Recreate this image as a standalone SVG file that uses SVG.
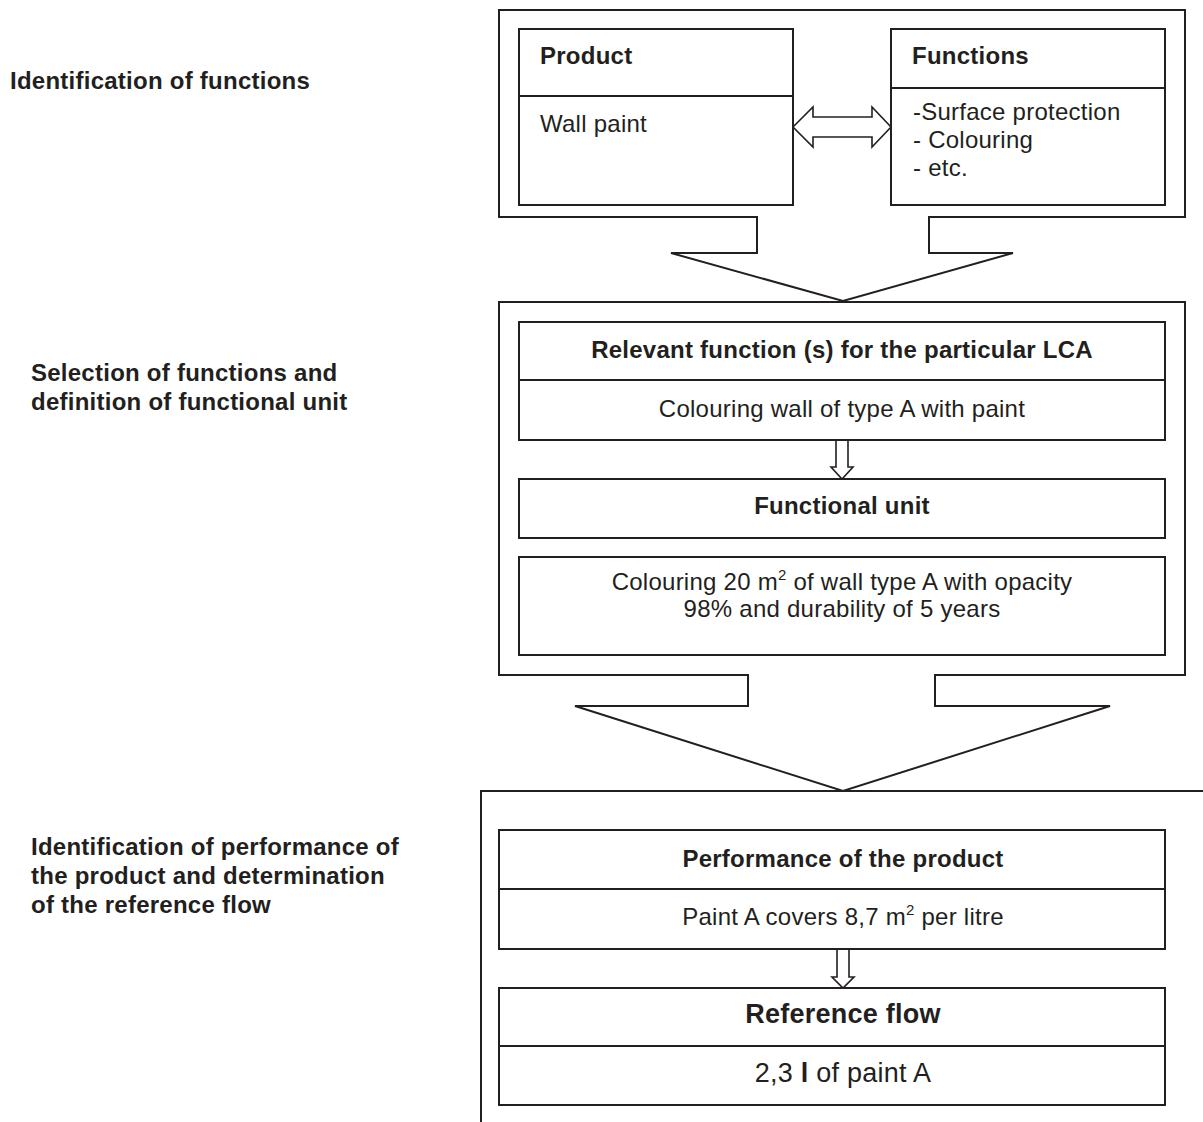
<svg xmlns="http://www.w3.org/2000/svg" width="1203" height="1122" viewBox="0 0 1203 1122">
  <style>
    .frame { fill: #ffffff; stroke: #231f20; stroke-width: 2; stroke-linejoin: miter; }
    .box { fill: #ffffff; stroke: #231f20; stroke-width: 2; }
    .rule { stroke: #231f20; stroke-width: 2; fill: none; }
    .arrow { fill: #ffffff; stroke: #231f20; stroke-width: 1.6; stroke-linejoin: miter; }
    text { font-family: "Liberation Sans", Arial, Helvetica, sans-serif; fill: #231f20; font-size: 24px; letter-spacing: 0.25px; }
    .b { font-weight: bold; }
    .c { text-anchor: middle; }
    .big { font-size: 27px; }
    .sup { font-size: 15px; }
  </style>
  <rect width="1203" height="1122" fill="#ffffff"/>

  <!-- stage labels on the left -->
  <g id="label-identification">
    <text class="b" x="10" y="89">Identification of functions</text>
  </g>
  <g id="label-selection">
    <text class="b" x="31" y="381">Selection of functions and</text>
    <text class="b" x="31" y="410">definition of functional unit</text>
  </g>
  <g id="label-performance">
    <text class="b" x="31" y="855">Identification of performance of</text>
    <text class="b" x="31" y="884">the product and determination</text>
    <text class="b" x="31" y="913">of the reference flow</text>
  </g>

  <!-- stage frames, each ending in a block arrow -->
  <g id="connectors">
    <path class="frame" d="M499,10 H1185 V217 H929 V253 H1013 L843,301 L671,253 H757 V217 H499 Z"/>
    <path class="frame" d="M499,302 H1185 V675 H935 V706 H1110 L843,791 L575,706 H748 V675 H499 Z"/>
    <path class="rule" d="M481,1122 V791 H1203"/>
    <!-- product / functions two-way arrow -->
    <polygon class="arrow" points="793,127 813,107 813,117 872,117 872,107 891,127 872,147 872,137 813,137 813,147"/>
    <!-- small down arrows -->
    <polygon class="arrow" points="836,440 848,440 848,467 853,467 842,479 831,467 836,467"/>
    <polygon class="arrow" points="837,949 849,949 849,977 854,977 843,988 832,977 837,977"/>
  </g>

  <g id="node-product">
    <rect class="box" x="519" y="29" width="274" height="176"/>
    <line class="rule" x1="519" y1="96" x2="793" y2="96"/>
    <text class="b" x="540" y="64">Product</text>
    <text x="540" y="132">Wall paint</text>
  </g>

  <g id="node-functions">
    <rect class="box" x="891" y="29" width="274" height="176"/>
    <line class="rule" x1="891" y1="88" x2="1165" y2="88"/>
    <text class="b" x="912" y="64">Functions</text>
    <text x="913" y="120">-Surface protection</text>
    <text x="913" y="148">- Colouring</text>
    <text x="913" y="176">- etc.</text>
  </g>

  <g id="node-relevant-function">
    <rect class="box" x="519" y="322" width="646" height="118"/>
    <line class="rule" x1="519" y1="380" x2="1165" y2="380"/>
    <text class="b c" x="842" y="358">Relevant function (s) for the particular LCA</text>
    <text class="c" x="842" y="417">Colouring wall of type A with paint</text>
  </g>

  <g id="node-functional-unit">
    <rect class="box" x="519" y="479" width="646" height="59"/>
    <text class="b c" x="842" y="514">Functional unit</text>
  </g>

  <g id="node-functional-unit-definition">
    <rect class="box" x="519" y="557" width="646" height="98"/>
    <text class="c" x="842" y="590">Colouring 20 m<tspan class="sup" dy="-10">2</tspan><tspan dy="10"> of wall type A with opacity</tspan></text>
    <text class="c" x="842" y="617">98% and durability of 5 years</text>
  </g>

  <g id="node-performance">
    <rect class="box" x="499" y="830" width="666" height="119"/>
    <line class="rule" x1="499" y1="889" x2="1165" y2="889"/>
    <text class="b c" x="843" y="867">Performance of the product</text>
    <text class="c" x="843" y="925">Paint A covers 8,7 m<tspan class="sup" dy="-10">2</tspan><tspan dy="10"> per litre</tspan></text>
  </g>

  <g id="node-reference-flow">
    <rect class="box" x="499" y="988" width="666" height="117"/>
    <line class="rule" x1="499" y1="1046" x2="1165" y2="1046"/>
    <text class="b c big" x="843" y="1023">Reference flow</text>
    <text class="c big" x="843" y="1082">2,3 <tspan class="b">l</tspan> of paint A</text>
  </g>
</svg>
